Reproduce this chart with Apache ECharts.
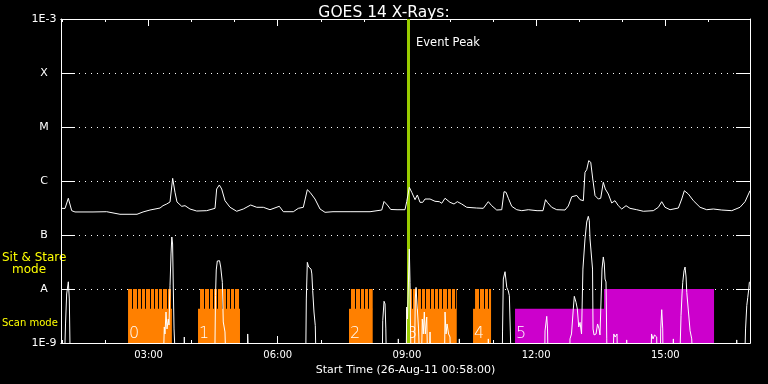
<!DOCTYPE html>
<html><head><meta charset="utf-8">
<script src="https://cdn.jsdelivr.net/npm/echarts@6/dist/echarts.min.js"></script>
<style>html,body{margin:0;padding:0;background:#000}#c{width:768px;height:384px}</style>
</head><body><div id="c"></div>
<script>
// Time axis in minutes since 00:00 on 26-Aug-11
const startMinute = 58, endMinute = 1018;
const hourTicks = [60,120,180,240,300,360,420,480,540,600,660,720,780,840,900,960];
const majorTicks = [180,360,540,720,900];
const yTickValues = [1e-9,1e-8,1e-7,1e-6,1e-5,1e-4,1e-3];
const yTickLabels = ['1E-9','A','B','C','M','X','1E-3'];
const eventPeakMinute = 541.5;
const sitStareLevel = 1e-8;
const scanLevel = 4.3e-9;
const rasterStepMinutes = 6;
const blockIds = ['0','1','2','3','4','5'];
const blockScanStart = [151.4, 248.9, 459.3, 538.7, 632.1, 690.6];
const blockStareStart = [151.4, 251.7, 462.1, 541.5, 634.9, 814.6];
const blockEnd = [212.5, 307.4, 492.3, 609.4, 657.2, 967.9];
const blockKind = ['raster','raster','raster','raster','raster','solid'];

const longFlux = [[58,3.12e-7],[63.6,3.1e-7],[68.2,4.79e-7],[72.9,2.82e-7],[77.5,2.67e-7],[102.6,2.67e-7],[121.7,2.70e-7],[140.2,2.42e-7],[163.9,2.42e-7],[172.3,2.67e-7],[182,2.90e-7],[196,3.16e-7],[200.1,3.49e-7],[205.3,3.75e-7],[209.9,4.09e-7],[213.6,1.12e-6],[216.8,6.2e-7],[219.6,4.09e-7],[226.2,3.40e-7],[230.8,3.49e-7],[237.7,3.03e-7],[247.1,2.78e-7],[261,2.82e-7],[272.6,3.12e-7],[274.9,7.11e-7],[278.6,8.44e-7],[281.9,7.11e-7],[286.5,4.32e-7],[293.5,3.26e-7],[302.8,2.75e-7],[312,3.03e-7],[322.3,3.59e-7],[330.7,3.26e-7],[339.9,3.26e-7],[349.2,2.94e-7],[362.2,3.40e-7],[367.8,2.70e-7],[381.7,2.70e-7],[388.7,3.12e-7],[395.6,3.26e-7],[401.2,6.90e-7],[405,6.18e-7],[407.3,6.61e-7],[411.9,4.64e-7],[418.9,3.03e-7],[425.9,2.63e-7],[437,2.70e-7],[460.7,2.70e-7],[488.6,2.70e-7],[490.9,2.94e-7],[504.9,2.90e-7],[508.1,4.18e-7],[512.7,3.59e-7],[517.4,2.97e-7],[526.2,2.94e-7],[537.3,2.94e-7],[539.7,4.14e-7],[543.3,7.64e-7],[546.7,6.18e-7],[551.3,4.51e-7],[554.5,5.51e-7],[558.2,4.03e-7],[562,4.03e-7],[565.2,4.64e-7],[572.2,4.64e-7],[579.1,4.21e-7],[585.1,4.14e-7],[588.5,3.87e-7],[593.1,4.79e-7],[600,4.03e-7],[605.6,3.75e-7],[610.2,4.14e-7],[616.3,3.75e-7],[623.3,3.26e-7],[637.2,3.16e-7],[646.4,3.12e-7],[653.4,4.14e-7],[658.1,3.49e-7],[665.1,2.90e-7],[672.1,2.94e-7],[675.3,6.34e-7],[678.1,6.18e-7],[681.3,4.79e-7],[686,3.40e-7],[693,2.94e-7],[700,2.82e-7],[709.1,2.94e-7],[721.3,2.82e-7],[729.6,2.82e-7],[733.1,4.51e-7],[735.6,4.03e-7],[741.7,3.26e-7],[748.7,2.94e-7],[760.3,2.90e-7],[764.9,3.45e-7],[769.6,5.1e-7],[776.6,5.4e-7],[781.2,4.51e-7],[785.8,4.32e-7],[788.1,1.45e-6],[790.5,1.62e-6],[793.3,2.38e-6],[796.1,2.22e-6],[798.9,1.09e-6],[802.1,5.35e-7],[806.7,4.64e-7],[810,4.79e-7],[813.6,9.46e-7],[816.4,7.11e-7],[820.6,5.74e-7],[825.3,3.92e-7],[829.9,4.32e-7],[834.5,3.49e-7],[839.3,3.03e-7],[845.3,3.49e-7],[850.8,3.12e-7],[860.2,2.94e-7],[869.4,2.75e-7],[883.3,2.82e-7],[890.3,3.26e-7],[895,4.14e-7],[899.6,3.26e-7],[906.6,2.94e-7],[918.2,3.16e-7],[922.9,4.64e-7],[926.5,6.61e-7],[932.1,5.74e-7],[939.1,4.32e-7],[948.4,3.26e-7],[957.7,2.94e-7],[966.9,3.03e-7],[978.6,2.90e-7],[992.6,2.82e-7],[1004.1,3.26e-7],[1011.1,4.14e-7],[1018,6.61e-7]];

const shortFlux = [[58,5e-10],[62.9,5e-10],[64.3,2.25e-9],[65.9,8.08e-9],[68.2,1.36e-8],[69.6,6.53e-9],[70.8,5e-10],
[200.8,5e-10],[201.9,1.98e-9],[202.9,1.47e-9],[204.3,3.75e-9],[205.7,1.82e-9],[207.5,2.78e-9],[208.5,2.15e-9],[209.9,1.15e-8],[211.3,4.45e-8],[212.4,9.18e-8],[213.5,6.81e-8],[214.5,1e-8],[215.5,1.82e-9],[217.3,5e-10],
[229.4,5e-10],[229.8,1.29e-9],[230.5,5e-10],
[272.3,5e-10],[273.3,7.52e-9],[274.3,2.25e-8],[275.8,3.30e-8],[277.5,3.16e-8],[278.9,3.34e-8],[280.5,2.55e-8],[282.8,1.33e-8],[284.1,2.45e-9],[286.5,1.60e-9],[287.5,5e-10],
[317.6,5e-10],[318.1,1.47e-9],[319.0,1.35e-9],[319.7,5e-10],
[399.0,5e-10],[399.8,6.53e-9],[401.2,3.12e-8],[403.1,2.55e-8],[405.0,2.70e-8],[406.4,2.34e-8],[407.5,1.90e-8],[408.7,9.30e-9],[410.5,3.75e-9],[412.3,2.09e-9],[413.3,5e-10],
[505.7,5e-10],[506.3,2.59e-9],[508.1,5.92e-9],[509.5,5.28e-9],[510.6,1.82e-9],[511.3,5e-10],
[527.6,5e-10],[528.0,1.19e-9],[528.5,5e-10],
[539.0,5e-10],[539.7,4.64e-9],[540.8,2.78e-9],[542.2,1.53e-8],[543.3,5.51e-8],[544.3,1.33e-8],[545.0,1.82e-9],[545.7,5e-10],
[550.6,5e-10],[551.6,6.53e-9],[552.7,1.07e-8],[554.5,4.27e-9],[556.2,1.82e-9],[557.5,5e-10],
[560.3,5e-10],[561.4,2.78e-9],[562.8,1.47e-9],[564.2,3.75e-9],[565.6,1.47e-9],[567.6,3.03e-9],[568.7,5e-10],
[571.5,5e-10],[572.2,1.60e-9],[572.9,5e-10],
[592.4,5e-10],[593.1,3.75e-9],[594.5,1.47e-9],[595.9,2.25e-9],[598.0,1.47e-9],[600.0,1.29e-9],[600.7,5e-10],
[612.6,5e-10],[613.0,1.19e-9],[613.6,5e-10],
[653.0,5e-10],[653.4,1.19e-9],[654.0,5e-10],
[672.8,5e-10],[673.2,1.60e-9],[674.3,1.53e-8],[676.7,2.09e-8],[679.1,1.07e-8],[681.3,9.18e-9],[682.7,7.52e-9],[684.1,1.60e-9],[685.0,5e-10],
[732.0,5e-10],[732.4,1.67e-9],[734.8,3.12e-9],[735.9,1.82e-9],[736.6,5e-10],
[766.8,5e-10],[767.2,1.19e-9],[769.3,1.47e-9],[771.8,4.27e-9],[773.2,7.32e-9],[775.6,5.68e-9],[777.4,4.27e-9],[779.4,1.98e-9],[781.2,2.41e-9],[783.3,1.47e-9],[784.7,1.47e-9],[785.2,2.34e-8],[788.1,8.44e-8],[790.5,1.74e-7],[792.7,2.22e-7],[794.1,1.84e-7],[795.1,8.44e-8],[798.6,2.34e-8],[799.3,1.82e-9],[800.7,1.41e-9],[803.5,1.47e-9],[805.6,2.25e-9],[807.7,1.82e-9],[809.0,1.41e-9],[811.1,1.41e-9],[811.8,2.34e-8],[813.6,3.92e-8],[815.0,2.9e-8],[816.0,1.53e-8],[817.4,1.35e-8],[818.4,1.19e-9],[818.9,5e-10],
[827.2,5e-10],[828.2,1.47e-9],[830.0,1.29e-9],[832.7,1.47e-9],[833.4,5e-10],
[845.7,5e-10],[846.2,1.14e-9],[846.7,5e-10],
[880.1,5e-10],[880.8,1.47e-9],[882.9,1.19e-9],[885.0,1.41e-9],[888.0,1.29e-9],[888.5,5e-10],
[893.1,5e-10],[893.6,1.82e-9],[895.0,4.14e-9],[896.4,1.82e-9],[896.8,5e-10],
[910.8,5e-10],[911.2,1.19e-9],[911.8,5e-10],
[920.2,5e-10],[921.9,3.2e-9],[923.3,8.08e-9],[924.3,1.33e-8],[926.1,2.18e-8],[927.5,2.55e-8],[928.9,1.67e-8],[929.9,8.69e-9],[932.1,8.08e-9],[934.5,1.69e-9],[936.8,1.19e-9],[937.9,5e-10],
[999.0,5e-10],[999.5,1.14e-9],[1000.0,5e-10],
[1010.7,5e-10],[1011.8,1.82e-9],[1013.5,4.91e-9],[1014.9,7.02e-9],[1016.3,1e-8],[1017.1,1.33e-8],[1018,1.35e-8]];

const FONT = 'DejaVu Sans';
const fmtTime = m => String(Math.floor(m/60)).padStart(2,'0') + ':' + String(Math.round(m%60)).padStart(2,'0');
const fmtY = v => { const i = Math.round(Math.log10(v)) + 9; return yTickLabels[i] !== undefined ? yTickLabels[i] : ''; };

const chart = echarts.init(document.getElementById('c'), null, {renderer:'canvas'});

function xAx(pos, ticks, len, extra) {
  return Object.assign({
    type:'value', min:startMinute, max:endMinute, position:pos,
    axisLine:{show:true, lineStyle:{color:'#fff', width:1}},
    axisTick:{show:true, inside:true, length:len, customValues:ticks, lineStyle:{color:'#fff', width:1}},
    axisLabel:{show:false}, splitLine:{show:false}
  }, extra || {});
}

const blockData = blockIds.map((id,i)=>[blockScanStart[i], blockStareStart[i], blockEnd[i], i]);

const option = {
  backgroundColor:'#000',
  animation:false,
  title:{text:'GOES 14 X-Rays:', left:'center', top:0, textStyle:{color:'#fff', fontSize:15.5, fontWeight:'normal', fontFamily:FONT}},
  grid:{left:61, right:18, top:19, bottom:41, containLabel:false},
  xAxis:[
    xAx('bottom', hourTicks, 3, {
      axisLabel:{show:true, customValues:majorTicks, formatter:fmtTime, color:'#fff', fontSize:10, fontFamily:FONT, margin:7},
      name:'Start Time (26-Aug-11 00:58:00)', nameLocation:'middle', nameGap:20,
      nameTextStyle:{color:'#fff', fontSize:11, fontFamily:FONT}
    }),
    xAx('bottom', majorTicks, 7),
    xAx('top', hourTicks, 3),
    xAx('top', majorTicks, 7)
  ],
  yAxis:[
    {type:'log', logBase:10, min:1e-9, max:1e-3, position:'left',
     axisLine:{show:true, lineStyle:{color:'#fff', width:1}},
     axisTick:{show:true, inside:true, length:14, lineStyle:{color:'#fff', width:1}},
     axisLabel:{color:'#fff', fontSize:11, fontFamily:FONT, align:'center', margin:17, formatter:fmtY},
     splitLine:{show:true, lineStyle:{color:'#fff', type:[1,5], width:1}}},
    {type:'log', logBase:10, min:1e-9, max:1e-3, position:'right',
     axisLine:{show:true, lineStyle:{color:'#fff', width:1}},
     axisTick:{show:true, inside:true, length:14, lineStyle:{color:'#fff', width:1}},
     axisLabel:{show:false}, splitLine:{show:false}}
  ],
  graphic:[
    {type:'text', left:2, top:252, style:{text:'Sit & Stare', fill:'#ffff00', font:'12px "DejaVu Sans"'}},
    {type:'text', left:12, top:264, style:{text:'mode', fill:'#ffff00', font:'12px "DejaVu Sans"'}},
    {type:'text', left:2, top:318, style:{text:'Scan mode', fill:'#ffff00', font:'10px "DejaVu Sans"'}}
  ],
  series:[
    {type:'custom', name:'blocks', xAxisIndex:0, yAxisIndex:0, z:2, clip:true, data:blockData,
     renderItem:(params, api)=>{
       const s = api.value(0), ss = api.value(1), e = api.value(2), i = api.value(3);
       const kind = blockKind[i];
       const color = kind === 'raster' ? '#ff8000' : '#cc00cc';
       const pBL = api.coord([s, 1e-9]);
       const pScan = api.coord([e, scanLevel]);
       const pStare = api.coord([ss, sitStareLevel]);
       const ch = [];
       ch.push({type:'rect', shape:{x:pBL[0], y:pScan[1], width:pScan[0]-pBL[0], height:pBL[1]-pScan[1]}, style:{fill:color}});
       ch.push({type:'rect', shape:{x:pStare[0], y:pStare[1], width:pScan[0]-pStare[0], height:pScan[1]-pStare[1]+0.5}, style:{fill:color}});
       if (kind === 'raster') {
         for (let t = ss + rasterStepMinutes; t < e - 1; t += rasterStepMinutes) {
           const px = Math.round(api.coord([t, scanLevel])[0]);
           ch.push({type:'rect', shape:{x:px, y:pStare[1], width:1, height:pScan[1]-pStare[1]}, style:{fill:'#000'}});
         }
       }
       ch.push({type:'text', style:{text:blockIds[i], x:pBL[0]+1, y:pBL[1]-1, align:'left', verticalAlign:'bottom', fill:'#fff', font:'200 16px "DejaVu Sans"'}});
       return {type:'group', children:ch};
     }},
    {type:'line', name:'event', xAxisIndex:0, yAxisIndex:0, z:3, data:[],
     markLine:{silent:true, symbol:'none', animation:false, data:[{xAxis:eventPeakMinute}],
       lineStyle:{color:'#99cc00', width:3, type:'solid'}, label:{show:false}},
     markPoint:{silent:true, symbol:'circle', symbolSize:0, animation:false,
       data:[{coord:[eventPeakMinute, 3.6e-4]}],
       label:{show:true, position:'right', distance:8, formatter:'Event Peak', color:'#fff', fontSize:11.5, fontFamily:FONT}}},
    {type:'line', name:'long', xAxisIndex:0, yAxisIndex:0, z:5, data:longFlux, showSymbol:false, symbol:'none', clip:true,
     lineStyle:{color:'#fff', width:1}},
    {type:'line', name:'short', xAxisIndex:0, yAxisIndex:0, z:5, data:shortFlux, showSymbol:false, symbol:'none', clip:true,
     lineStyle:{color:'#fff', width:1}}
  ]
};
chart.setOption(option);
</script></body></html>
